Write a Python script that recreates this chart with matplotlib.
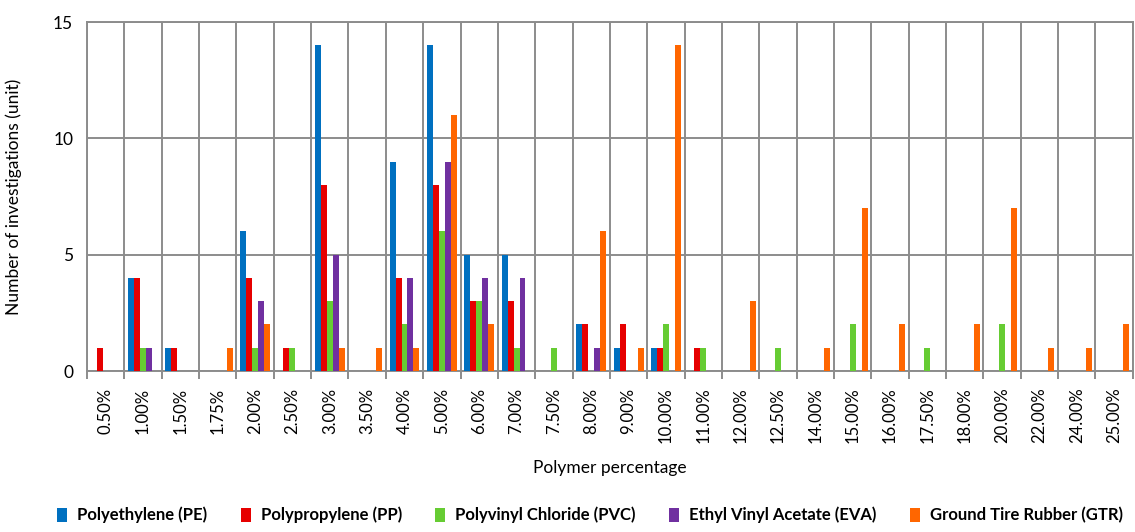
import numpy as np
import matplotlib.pyplot as plt

plt.rcParams['font.family'] = ['Lato', 'DejaVu Sans']

categories = ['0.50%', '1.00%', '1.50%', '1.75%', '2.00%', '2.50%', '3.00%', '3.50%',
              '4.00%', '5.00%', '6.00%', '7.00%', '7.50%', '8.00%', '9.00%', '10.00%',
              '11.00%', '12.00%', '12.50%', '14.00%', '15.00%', '16.00%', '17.50%',
              '18.00%', '20.00%', '22.00%', '24.00%', '25.00%']

pe  = [0, 4, 1, 0, 6, 0, 14, 0, 9, 14, 5, 5, 0, 2, 1, 1, 0, 0, 0, 0, 0, 0, 0, 0, 0, 0, 0, 0]
pp  = [1, 4, 1, 0, 4, 1, 8, 0, 4, 8, 3, 3, 0, 2, 2, 1, 1, 0, 0, 0, 0, 0, 0, 0, 0, 0, 0, 0]
pvc = [0, 1, 0, 0, 1, 1, 3, 0, 2, 6, 3, 1, 1, 0, 0, 2, 1, 0, 1, 0, 2, 0, 1, 0, 2, 0, 0, 0]
eva = [0, 1, 0, 0, 3, 0, 5, 0, 4, 9, 4, 4, 0, 1, 0, 0, 0, 0, 0, 0, 0, 0, 0, 0, 0, 0, 0, 0]
gtr = [0, 0, 0, 1, 2, 0, 1, 1, 1, 11, 2, 0, 0, 6, 1, 14, 0, 3, 0, 1, 7, 2, 0, 2, 7, 1, 1, 2]

series = [
    ('Polyethylene (PE)', pe, '#0070C0'),
    ('Polypropylene (PP)', pp, '#E60000'),
    ('Polyvinyl Chloride (PVC)', pvc, '#66CC33'),
    ('Ethyl Vinyl Acetate (EVA)', eva, '#7030A0'),
    ('Ground Tire Rubber (GTR)', gtr, '#FF6600'),
]

fig = plt.figure(figsize=(11.35, 5.32), dpi=100)
ax = fig.add_axes([0.0767, 0.3026, 0.9213, 0.656])

x = np.arange(len(categories))
w = 0.16
for i, (name, vals, col) in enumerate(series):
    ax.bar(x + (i - 2) * w, vals, w, color=col, label=name, zorder=3)

grid_col = '#8c8c8c'
ax.set_xlim(-0.5, len(categories) - 0.5)
ax.set_ylim(0, 15)
ax.set_yticks([0, 5, 10, 15])
ax.set_xticks(x)
ax.set_xticklabels(categories, rotation=90, fontsize=12)
ax.set_xticks(np.arange(-0.5, len(categories), 1), minor=True)
ax.tick_params(axis='x', which='major', length=0, pad=12)
ax.tick_params(axis='x', which='minor', length=6, width=1.4, color=grid_col)
ax.tick_params(axis='y', length=0, labelsize=12.5, pad=10)
ax.grid(axis='y', which='major', color=grid_col, linewidth=1.4, zorder=0)
ax.grid(axis='x', which='minor', color=grid_col, linewidth=1.4, zorder=0)
for s in ax.spines.values():
    s.set_color(grid_col)
    s.set_linewidth(1.4)

ax.set_ylabel('Number of investigations (unit)', fontsize=12.5, labelpad=22)
ax.set_xlabel('Polymer percentage', fontsize=12.5, labelpad=12)

leg = fig.legend(loc='lower center', bbox_to_anchor=(0.52, -0.012), ncol=5, frameon=False,
                 prop={'size': 12, 'weight': 'bold'}, handlelength=0.6, handleheight=0.9,
                 handletextpad=0.6, columnspacing=2.0)

fig.savefig('out.png', dpi=100)
